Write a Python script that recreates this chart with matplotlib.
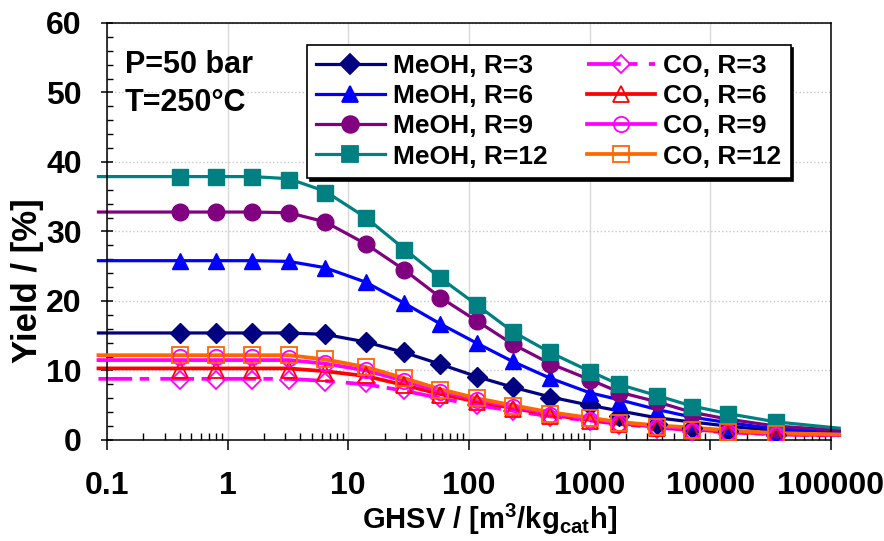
import numpy as np
import matplotlib
matplotlib.use("Agg")
import matplotlib.pyplot as plt
from matplotlib.lines import Line2D
from matplotlib.ticker import MultipleLocator, LogLocator, FixedLocator, FixedFormatter, NullFormatter

plt.rcParams['font.family'] = ['Liberation Sans', 'DejaVu Sans']
plt.rcParams['font.weight'] = 'bold'
plt.rcParams['mathtext.fontset'] = 'custom'
plt.rcParams['mathtext.rm'] = 'Liberation Sans:bold'
plt.rcParams['mathtext.it'] = 'Liberation Sans:bold'
plt.rcParams['mathtext.bf'] = 'Liberation Sans:bold'

# measured points (GHSV in m3/kgcat h, yield in %)
x_pts = [0.4, 0.8, 1.6, 3.2, 6.4, 14, 29, 58, 117, 230, 470, 1000, 1750, 3600, 7000, 14000, 35000]
meoh_r3 = [15.4, 15.4, 15.4, 15.4, 15.2, 14.1, 12.6, 10.9, 9.1, 7.6, 6.1, 5.0, 3.4, 2.3, 1.7, 1.3, 0.7]
meoh_r6 = [25.7, 25.7, 25.7, 25.7, 24.8, 22.7, 19.7, 16.7, 13.9, 11.3, 8.9, 6.7, 5.5, 4.2, 2.6, 2.0, 0.8]
meoh_r9 = [32.8, 32.8, 32.8, 32.6, 31.3, 28.2, 24.5, 20.5, 17.1, 13.8, 11.0, 8.6, 6.7, 5.4, 3.8, 2.9, 1.6]
meoh_r12 = [37.9, 37.9, 37.9, 37.4, 35.6, 32.0, 27.4, 23.3, 19.4, 15.6, 12.6, 9.8, 8.0, 6.4, 4.8, 3.7, 2.6]
co_r3 = [8.6, 8.6, 8.6, 8.6, 8.4, 8.2, 7.2, 6.0, 5.0, 4.2, 3.3, 2.7, 2.2, 1.6, 1.2, 0.9, 0.6]
co_r6 = [10.1, 10.1, 10.1, 10.1, 9.7, 9.3, 7.9, 6.5, 5.4, 4.5, 3.5, 2.8, 2.3, 1.7, 1.3, 1.0, 0.7]
co_r9 = [11.9, 11.9, 11.9, 11.8, 11.1, 10.1, 8.5, 6.9, 5.7, 4.7, 3.6, 2.9, 2.4, 1.8, 1.3, 1.1, 0.7]
co_r12 = [12.2, 12.2, 12.2, 12.2, 11.6, 10.5, 8.9, 7.2, 6.0, 4.9, 3.8, 3.1, 2.5, 1.9, 1.4, 1.2, 0.8]

# model curves
x_fit = [0.085, 0.4, 0.8, 1.6, 3.2, 6.4, 14, 29, 58, 117, 230, 470, 1000, 1750, 3600, 7000, 14000, 35000, 117000]
fit_meoh_r3 = [15.4, 15.4, 15.4, 15.4, 15.4, 15.2, 14.1, 12.6, 10.9, 9.1, 7.6, 6.2, 5.0, 4.2, 3.2, 2.6, 2.0, 1.3, 1.1]
fit_meoh_r6 = [25.8, 25.8, 25.8, 25.8, 25.7, 24.8, 22.7, 19.7, 16.7, 13.9, 11.3, 8.9, 6.8, 5.8, 4.4, 3.3, 2.5, 1.6, 1.2]
fit_meoh_r9 = [32.8, 32.8, 32.8, 32.8, 32.7, 31.4, 28.2, 24.5, 20.5, 17.1, 13.8, 11.0, 8.7, 6.9, 5.5, 4.0, 3.0, 2.0, 1.4]
fit_meoh_r12 = [37.9, 37.9, 37.9, 37.9, 37.6, 35.8, 32.0, 27.5, 23.3, 19.4, 15.6, 12.6, 9.9, 8.0, 6.4, 4.9, 3.8, 2.6, 1.7]
fit_co_r3 = [8.8, 8.8, 8.8, 8.8, 8.8, 8.5, 8.0, 7.1, 6.0, 5.0, 4.2, 3.4, 2.8, 2.3, 1.8, 1.4, 1.1, 0.8, 0.65]
fit_co_r6 = [10.3, 10.3, 10.3, 10.3, 10.3, 9.9, 9.2, 7.9, 6.6, 5.5, 4.6, 3.6, 2.9, 2.4, 1.9, 1.5, 1.2, 0.85, 0.7]
fit_co_r9 = [11.5, 11.5, 11.5, 11.5, 11.5, 11.0, 10.0, 8.5, 7.0, 5.8, 4.8, 3.8, 3.0, 2.5, 2.0, 1.6, 1.3, 0.9, 0.75]
fit_co_r12 = [12.2, 12.2, 12.2, 12.2, 12.2, 11.6, 10.5, 8.9, 7.3, 6.0, 5.0, 4.0, 3.2, 2.6, 2.1, 1.8, 1.4, 1.0, 0.8]

labels = ['MeOH, R=3', 'MeOH, R=6', 'MeOH, R=9', 'MeOH, R=12',
          'CO, R=3', 'CO, R=6', 'CO, R=9', 'CO, R=12']
xtick_labels = ['0.1', '1', '10', '100', '1000', '10000', '100000']

series = [
    # pts, fit, color, marker, size, filled, dashed
    (meoh_r3, fit_meoh_r3, '#000080', 'D', 10, True, False),
    (meoh_r6, fit_meoh_r6, '#0000FF', '^', 12, True, False),
    (meoh_r9, fit_meoh_r9, '#800080', 'o', 12, True, False),
    (meoh_r12, fit_meoh_r12, '#008080', 's', 12, True, False),
    (co_r3, fit_co_r3, '#FF00FF', 'D', 9, False, True),
    (co_r6, fit_co_r6, '#FF0000', '^', 11, False, False),
    (co_r9, fit_co_r9, '#FF00FF', 'o', 11, False, False),
    (co_r12, fit_co_r12, '#FF6600', 's', 11.5, False, False),
]

fig = plt.figure(figsize=(8.84, 5.41), dpi=100)
ax = fig.add_axes([0.121, 0.1867, 0.819, 0.7708])

handles = []
for i, (pts, fit, col, mk, ms, filled, dashed) in enumerate(series):
    lw = 2.3 if filled else 2.7
    ln, = ax.plot(x_fit, fit, color=col, lw=lw, clip_on=False, zorder=2 + i * 0.1)
    if dashed:
        ln.set_dashes((9, 2, 2.5, 3))
    if filled:
        ax.plot(x_pts, pts, ls='none', marker=mk, ms=ms, color=col, mec=col, zorder=3 + i * 0.1)
    else:
        ax.plot(x_pts, pts, ls='none', marker=mk, ms=ms, mfc='none', mec=col, mew=1.3, zorder=3 + i * 0.1)
    h = Line2D([], [], color=col, lw=lw, marker=mk, ms=ms,
               mfc=col if filled else 'none', mec=col, mew=1.3)
    if dashed:
        h.set_dashes((9, 2, 2.5, 3))
    handles.append(h)

ax.set_xscale('log')
ax.set_xlim(0.1, 100000)
ax.set_ylim(0, 60)
ax.xaxis.set_major_locator(FixedLocator([0.1, 1, 10, 100, 1000, 10000, 100000]))
ax.xaxis.set_major_formatter(FixedFormatter(xtick_labels))
ax.xaxis.set_minor_locator(LogLocator(base=10, subs=np.arange(2, 10)))
ax.xaxis.set_minor_formatter(NullFormatter())
ax.yaxis.set_major_locator(MultipleLocator(10))
ax.yaxis.set_minor_locator(MultipleLocator(2))

ax.tick_params(axis='x', which='major', direction='out', length=7, width=1.1, pad=15, labelsize=23)
ax.tick_params(axis='x', which='minor', direction='in', length=5, width=1.0)
ax.tick_params(axis='y', which='major', direction='inout', length=9, width=1.1, pad=13.5, labelsize=23)
ax.tick_params(axis='y', which='minor', direction='in', length=4, width=1.0)
for s in ax.spines.values():
    s.set_linewidth(1.1)

ax.set_axisbelow(True)
ax.xaxis.grid(True, which='major', color='#d9d9d9', lw=1.0, ls='-')
ax.yaxis.grid(True, which='major', color='#c8c8c8', lw=1.0, ls=':')

ax.text(0.025, 0.880, 'P=50 bar', transform=ax.transAxes, fontsize=22, fontweight='bold', va='baseline')
ax.text(0.025, 0.789, 'T=250°C', transform=ax.transAxes, fontsize=22, fontweight='bold', va='baseline')

leg = ax.legend(handles, labels, ncol=2, loc='upper left', bbox_to_anchor=(0.276, 0.947),
                borderaxespad=0, fontsize=19, frameon=True, fancybox=False,
                shadow={'color': 'black', 'alpha': 1}, edgecolor='black',
                handlelength=2.6, handletextpad=0.3, columnspacing=1.5,
                labelspacing=0.23, borderpad=0.35, numpoints=1)
leg.get_frame().set_linewidth(1.2)
leg.set_zorder(10)

fig.text(27 / 884, 1 - 281 / 541, 'Yield / [%]', rotation=90, ha='center', va='center',
         fontsize=25, fontweight='bold')
fig.text(490 / 884, 12 / 541, r'GHSV / [m$^{3}$/kg$_{cat}$h]', ha='center', va='baseline',
         fontsize=21, fontweight='bold')

fig.savefig('out.png', dpi=100)
